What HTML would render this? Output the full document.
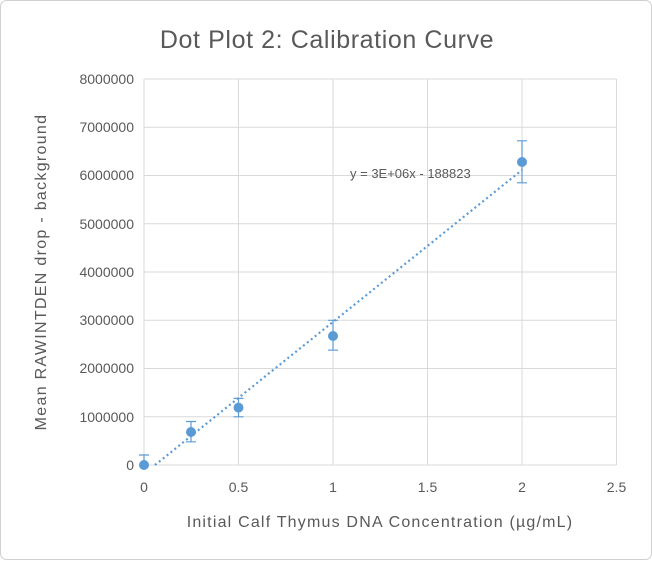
<!DOCTYPE html>
<html><head><style>
body{margin:0;background:#fff;}
</style></head><body>
<svg width="652" height="560" xmlns="http://www.w3.org/2000/svg" font-family="Liberation Sans, sans-serif">
<rect x="0.5" y="0.5" width="651" height="559" rx="6" fill="#fff" stroke="#d0d0d0"/>
<text x="327" y="48" text-anchor="middle" font-size="25" letter-spacing="0.6" fill="#595959">Dot Plot 2: Calibration Curve</text>
<g stroke="#d9d9d9" stroke-width="1">
<line x1="144" y1="79" x2="616.5" y2="79"/>
<line x1="144" y1="127.25" x2="616.5" y2="127.25"/>
<line x1="144" y1="175.5" x2="616.5" y2="175.5"/>
<line x1="144" y1="223.75" x2="616.5" y2="223.75"/>
<line x1="144" y1="272" x2="616.5" y2="272"/>
<line x1="144" y1="320.25" x2="616.5" y2="320.25"/>
<line x1="144" y1="368.5" x2="616.5" y2="368.5"/>
<line x1="144" y1="416.75" x2="616.5" y2="416.75"/>
<line x1="144" y1="465" x2="616.5" y2="465"/>
<line x1="144" y1="79" x2="144" y2="465"/>
<line x1="238.5" y1="79" x2="238.5" y2="465"/>
<line x1="333" y1="79" x2="333" y2="465"/>
<line x1="427.5" y1="79" x2="427.5" y2="465"/>
<line x1="522" y1="79" x2="522" y2="465"/>
<line x1="616.5" y1="79" x2="616.5" y2="465"/>
</g>
<g font-size="14" fill="#595959" text-anchor="end">
<text x="134" y="84">8000000</text>
<text x="134" y="132">7000000</text>
<text x="134" y="180">6000000</text>
<text x="134" y="229">5000000</text>
<text x="134" y="277">4000000</text>
<text x="134" y="325">3000000</text>
<text x="134" y="373">2000000</text>
<text x="134" y="422">1000000</text>
<text x="134" y="470">0</text>
</g>
<g font-size="14" fill="#595959" text-anchor="middle">
<text x="144" y="492">0</text>
<text x="238.5" y="492">0.5</text>
<text x="333" y="492">1</text>
<text x="427.5" y="492">1.5</text>
<text x="522" y="492">2</text>
<text x="616.5" y="492">2.5</text>
</g>
<text x="380" y="527" text-anchor="middle" font-size="16" letter-spacing="1.2" fill="#595959">Initial Calf Thymus DNA Concentration (µg/mL)</text>
<text transform="translate(46,272) rotate(-90)" text-anchor="middle" font-size="16" letter-spacing="1.3" fill="#595959">Mean RAWINTDEN drop - background</text>
<line x1="155" y1="465" x2="522" y2="170" stroke="#5b9bd5" stroke-width="2.2" stroke-dasharray="2,3"/>
<text x="350" y="178" font-size="13" fill="#595959">y = 3E+06x - 188823</text>
<g stroke="#5b9bd5" stroke-width="1.2" fill="none">
<path d="M144 455V465M139 455H149"/>
<path d="M191 421.5V441.8M186 421.5H196M186 441.8H196"/>
<path d="M238.5 398.4V416.8M233.5 398.4H243.5M233.5 416.8H243.5"/>
<path d="M333 320.3V350.2M328 320.3H338M328 350.2H338"/>
<path d="M522 140.8V182.8M517 140.8H527M517 182.8H527"/>
</g>
<g fill="#5b9bd5">
<circle cx="144" cy="465" r="5"/>
<circle cx="191" cy="432" r="5"/>
<circle cx="238.5" cy="407.6" r="5"/>
<circle cx="333" cy="336" r="5"/>
<circle cx="522" cy="162" r="5"/>
</g>
</svg>
</body></html>
